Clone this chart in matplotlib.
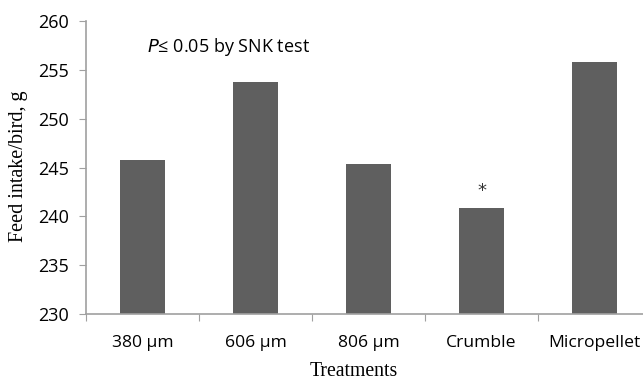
import matplotlib
matplotlib.use("Agg")
import matplotlib.pyplot as plt
import numpy as np

categories = ["380 µm", "606 µm", "806 µm", "Crumble", "Micropellet"]
feed_intake = [245.8, 253.8, 245.4, 240.9, 255.8]
yticks = [230, 235, 240, 245, 250, 255, 260]
significant = [False, False, False, True, False]

W, H = 643, 382
fig = plt.figure(figsize=(W / 100, H / 100), dpi=100)
left, right, top, bottom = 86, 651, 21, 314
ax = fig.add_axes([left / W, 1 - bottom / H, (right - left) / W, (bottom - top) / H])

x = np.arange(len(categories))
ax.bar(x, feed_intake, width=0.39, color="#5f5f5f", bottom=0)
ax.set_xlim(-0.5, len(categories) - 0.5)
ax.set_ylim(230, 260)
ax.set_yticks(yticks)
ax.set_xticks(np.arange(len(categories) + 1) - 0.5, minor=False)
ax.set_xticklabels([])
ax.set_xticks(x, minor=True)
ax.set_xticklabels(categories, minor=True, fontfamily="Open Sans", fontsize=12.6)
ax.tick_params(axis="x", which="minor", length=0, pad=15)
ax.tick_params(axis="x", which="major", length=5, color="#a0a0a0", direction="out")
ax.tick_params(axis="y", length=5, color="#a0a0a0", direction="out", pad=7)
for lab in ax.get_yticklabels():
    lab.set_fontfamily("Open Sans")
    lab.set_fontsize(13)

for s in ["top", "right"]:
    ax.spines[s].set_visible(False)
for s in ["left", "bottom"]:
    ax.spines[s].set_color("#a0a0a0")
    ax.spines[s].set_linewidth(1.2)

for xi, v, sig in zip(x, feed_intake, significant):
    if sig:
        ax.text(xi, v + 1.7, "*", ha="center", va="center", fontsize=13,
                fontfamily="DejaVu Sans", color="#333333")

ax.text(147 / W, 1 - 47 / H, r"$\mathit{P}$≤ 0.05 by SNK test", transform=fig.transFigure,
        ha="left", va="center", fontsize=13, fontfamily="Open Sans")

fig.text(19 / W, 1 - 166 / H, "Feed intake/bird, g", rotation=90, ha="center", va="center",
         fontfamily="Liberation Serif", fontsize=14.5)
fig.text(354 / W, 1 - 372 / H, "Treatments", ha="center", va="center",
         fontfamily="Liberation Serif", fontsize=14.2)

fig.savefig("out.png", dpi=100)
